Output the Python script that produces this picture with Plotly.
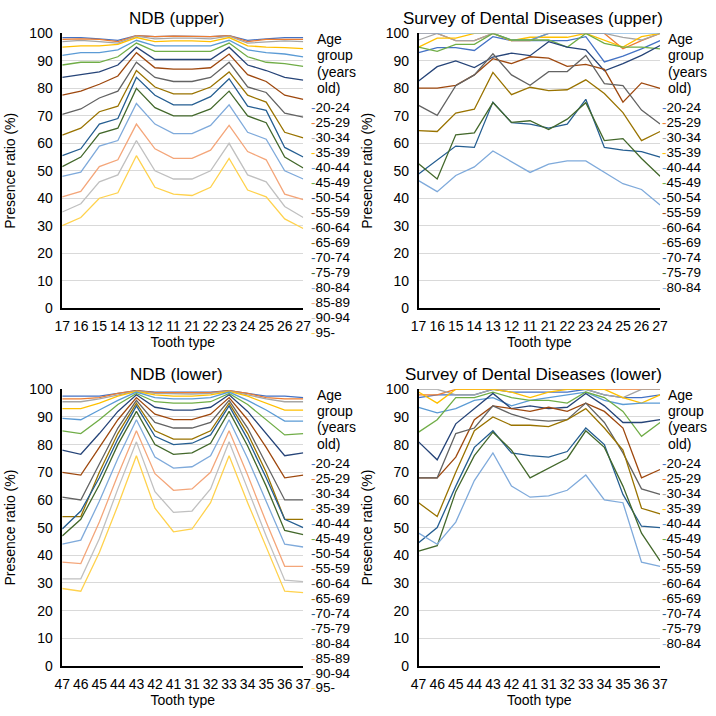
import plotly.graph_objects as go

age_ndb = ["20-24","25-29","30-34","35-39","40-44","45-49","50-54","55-59","60-64",
           "65-69","70-74","75-79","80-84","85-89","90-94","95-"]
age_survey = age_ndb[:13]

colors = ['#4472C4','#ED7D31','#A5A5A5','#FFC000','#5B9BD5','#70AD47','#264478','#9E480E',
          '#636363','#997300','#255E91','#43682B','#7FAADB','#F4A67A','#C0C0C0','#FFD24D']

teeth_upper = ["17","16","15","14","13","12","11","21","22","23","24","25","26","27"]
teeth_lower = ["47","46","45","44","43","42","41","31","32","33","34","35","36","37"]

ndb_upper = [
    [98.5,98.5,98,97.5,99.2,98.8,99,99,98.8,99.2,97.5,98,98.5,98.5],
    [97.8,98,97.8,97,99.2,98.8,99,99,98.8,99.2,97,97.8,97.8,97.8],
    [97,97.5,97,96.5,99,98,98.3,98.3,98,99,96.5,97,97.3,97],
    [95,95.5,95.5,96,98.5,97,97.3,97.3,97,98.5,95.5,95,94.8,94.5],
    [92,93,93,94,97.5,95.5,95.5,95.5,95.5,97.5,94,93,92.5,91.5],
    [88.5,89.5,89.5,91.5,96.5,93.5,93.5,93.5,93.5,96.5,91.5,89.5,89,88],
    [84,85,86,88.5,95,90.5,90.5,90.5,90.5,95,88.5,86.5,84,83],
    [77.5,79,81.5,84.5,93,87.5,87,87,87.5,92.5,85,82.5,77.5,76],
    [70.5,72.5,76.5,79,89.5,84,82.5,82.5,84,89.5,80.5,78.5,71,69.5],
    [63,65.5,71.5,73.5,86.5,80.5,78,78,80.5,86,77.5,75,64,62],
    [55.5,58,67,69,84,77.5,74,74,77,83.5,73.5,72,58.5,55],
    [51.5,55,63.5,65.5,80,73,70,70,72.5,79,70,67.5,55,51],
    [48,49.5,59,61,74.5,67,63.5,63.5,66.5,74,64,61.5,50,47],
    [40.5,42.5,51.5,54,67,58,54.5,54.5,57.5,66.5,57,54,41.5,39.5],
    [35,38,46,48.5,61,50,47,47,50,60,48.5,46,37,33],
    [30,33,40,42,55.5,44,41.5,41,44,54.5,43,40.5,32.5,29],
]

ndb_lower = [
    [97.5,97.5,97.5,98.5,99.5,99,99,99,99,99.5,98.5,97.5,97.5,97],
    [96.5,96.5,97,98.5,99.5,98.8,98.8,98.8,98.8,99.5,98.5,97,96.5,96.5],
    [95.5,95.5,96.5,98,99.3,98.5,98.3,98.3,98.5,99.3,98,96.5,95.5,95.5],
    [93,93,95,97.5,99.2,98,97.5,97.5,98,99.2,97.5,95,92.5,92.5],
    [89.5,89,92.5,96,99,97,96.5,96.5,97,99,96,92.5,88.5,88.5],
    [85,84,89,94.5,98.5,95.5,95,95,95.5,98.5,94.5,89,83.5,84],
    [78,76.5,84,92,98,93.5,92.5,92.5,93.5,98,92,84,76,77],
    [70,69,79,89,97,91,89,89,91,97,89,79,68,69],
    [61,60,73,86,96,88,86,86,88,96,86,73,60,60],
    [54,54,70,84,95,85,82,82,85,95,84,70,53,53],
    [49.5,56,68,82,94,83,80,80.5,83.5,94,82,68,53,50],
    [47,53,65.5,80,92,80,76.5,77,80.5,92,79.5,65,49,47.5],
    [44,45.5,59.5,75,89,75.5,71.5,72,76,89,75,59.5,44,43],
    [37.5,37,52,69,85,69.5,63.5,64,70,85,69,52,36,36],
    [31.5,31.5,46,64,81,63,55.5,56,64,81,64,47,31,30.5],
    [28,27,41,58,76,57,48.5,49.5,59,76,59,43,27,26.5],
]

survey_upper = [
    [93,94.8,94.8,93.8,98.8,97.4,97.4,97.4,97.4,98.8,89.6,91.7,94.4,97.4],
    [100,100,97.4,97.4,100,97.4,97.4,100,100,100,100,94.4,97.4,100],
    [97.6,100,97.4,97.4,100,100,100,100,100,100,100,98.6,97.6,100],
    [95,98.3,98.3,100,100,97.4,98.6,98.6,98.6,100,97.6,95,98.8,100],
    [100,100,100,100,100,97.6,97.6,100,100,100,100,100,100,100],
    [95,93.5,96,96,100,97.6,97.6,97.6,95,100,96.4,95,95,94.4],
    [82.7,87.9,90,87.6,91.4,92.8,91.9,97,95,94,86.4,89,92,95.6],
    [80.1,80.1,81.1,84.9,90.8,89,91.5,91,88,88.7,86.9,75,82,80],
    [73.8,70.2,81,84.9,92.6,84.9,81.1,86.1,86.1,92,81.7,81,72.1,67],
    [64.6,64.3,71,72.4,85.8,77.7,80.4,79.2,79.5,83.1,78.1,71.2,61,64.3],
    [48.8,54,59,58.5,75,67.5,67,65.5,67,76,58.5,57.5,57,55],
    [52.6,47,63.1,63.8,74.8,67.6,68.2,65,68.8,74.8,61,61.7,54.5,48],
    [46.4,42.4,48.3,51.4,57.2,53.3,49.4,52.4,53.6,53.6,49.4,45.3,43.2,37.5],
]

survey_lower = [
    [97,98,98,98,100,99,99,99,99,100,98,97,97,98],
    [98,98,100,100,100,100,100,100,100,100,100,100,100,100],
    [100,100,98,98,100,100,100,100,100,100,98,97,100,100],
    [99,95,100,100,100,99,97,99,100,100,100,97,95,98],
    [93.5,91.5,93,96,97,94,96,97,98,99,96,94.5,95,95],
    [84.5,89,97,97,99,97,96,96,95,99,97,92,83,88],
    [81,74.5,87.5,93,98.5,93,94,93,93.5,98.5,94,88,88,89],
    [68,68,75.5,89,94,93,92,93.5,92,95,92,86,68,71],
    [68,68,84,86,94,91,89,88.5,89,95,88,77,64,62],
    [59,54,70,85,90,87,87,86.5,89,93,86,78,57,55],
    [44.5,50,65,79,85,77,76,75.5,77.5,86,80,62,50.5,50],
    [41.5,43.5,63,76,84.5,78,68,71.5,75,85,79,65,48,38],
    [48,44,52,67,77,65,61,61.5,63.5,69,60,59,37.5,36],
]

W = H = 716
def px_x(p): return p / W
def px_y(p): return 1 - p / H

panels = [
    dict(title="NDB (upper)", teeth=teeth_upper, data=ndb_upper, ages=age_ndb,
         xd=[55.5, 302], yd=[26, 307], leg_x=309, tx=172),
    dict(title="Survey of Dental Diseases (upper)", teeth=teeth_upper, data=survey_upper, ages=age_survey,
         xd=[420, 667], yd=[26, 307], leg_x=668, tx=537),
    dict(title="NDB (lower)", teeth=teeth_lower, data=ndb_lower, ages=age_ndb,
         xd=[55.5, 302], yd=[390, 673], leg_x=309, tx=172),
    dict(title="Survey of Dental Diseases (lower)", teeth=teeth_lower, data=survey_lower, ages=age_survey,
         xd=[420, 667], yd=[390, 673], leg_x=668, tx=537),
]

FONT = "Liberation Sans, Arial, sans-serif"
fig = go.Figure()
annotations = []
layout = dict(width=W, height=H, margin=dict(l=0, r=0, t=0, b=0),
              paper_bgcolor="white", plot_bgcolor="white", showlegend=False,
              font=dict(family=FONT, color="#000000"))

for i, p in enumerate(panels):
    n = "" if i == 0 else str(i + 1)
    xa, ya = "x" + n, "y" + n
    for k, (age, vals) in enumerate(zip(p["ages"], p["data"])):
        fig.add_trace(go.Scatter(x=p["teeth"], y=vals, mode="lines", name=age,
                                 line=dict(color=colors[k], width=1.3),
                                 xaxis=xa, yaxis=ya))
    layout["xaxis" + n] = dict(domain=[px_x(p["xd"][0]), px_x(p["xd"][1])], anchor=ya,
                               type="category", categoryorder="array", categoryarray=p["teeth"],
                               showline=True, linecolor="#000000", linewidth=1.5,
                               showgrid=False, ticks="", tickfont=dict(size=14),
                               ticklabelstandoff=4,
                               title=dict(text="Tooth type", font=dict(size=14), standoff=5))
    layout["yaxis" + n] = dict(domain=[px_y(p["yd"][1]), px_y(p["yd"][0])], anchor=xa,
                               range=[0, 100], dtick=10, showline=True, linecolor="#000000",
                               linewidth=1.5, gridcolor="#D9D9D9", gridwidth=1.3,
                               zeroline=False, ticks="", tickfont=dict(size=14),
                               ticklabelstandoff=5,
                               title=dict(text="Presence ratio (%)", font=dict(size=14), standoff=10))
    top = p["yd"][0]
    annotations.append(dict(text=p["title"], x=px_x(p["tx"]), y=px_y(top - 15),
                            xref="paper", yref="paper", showarrow=False,
                            xanchor="center", yanchor="middle", font=dict(size=17)))
    for j, word in enumerate(["Age", "group", "(years", "old)"]):
        annotations.append(dict(text=word, x=px_x(p["leg_x"] + 6), y=px_y(top + 6 + j * 16.5),
                                xref="paper", yref="paper", showarrow=False, borderpad=0,
                                xanchor="left", yanchor="middle", font=dict(size=14)))
    for k, age in enumerate(p["ages"]):
        annotations.append(dict(text=f'<span style="color:{colors[k]}">-</span>{age}',
                                x=px_x(p["leg_x"]), y=px_y(top + 76 + k * 15.3),
                                xref="paper", yref="paper", showarrow=False, borderpad=0,
                                xanchor="left", yanchor="middle", font=dict(size=13.5)))

layout["annotations"] = annotations
fig.update_layout(**layout)
fig.write_html("out.html")
